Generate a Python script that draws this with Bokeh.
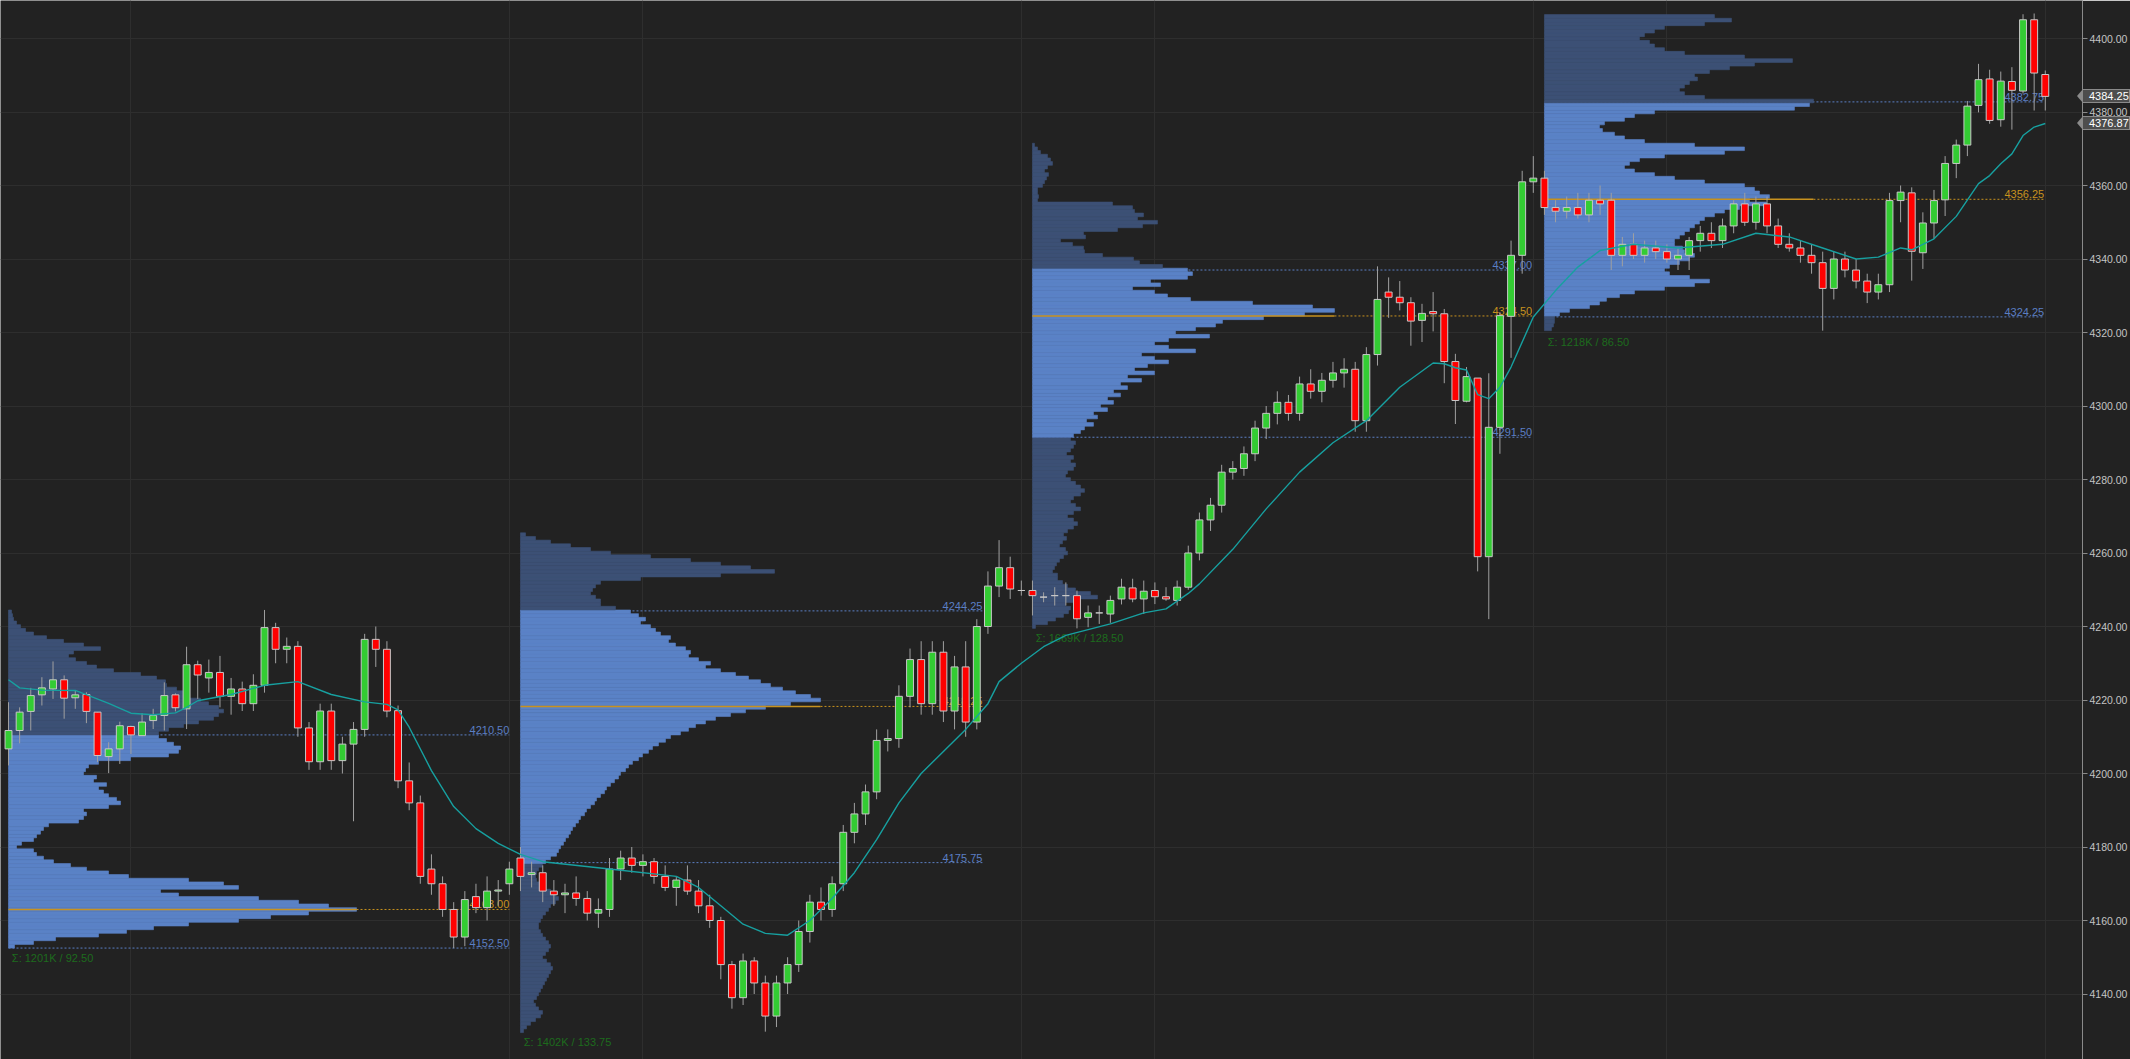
from bokeh.plotting import figure
from bokeh.models import ColumnDataSource, FixedTicker, Grid, NumeralTickFormatter, Range1d
from bokeh.core.properties import value
from bokeh.embed import file_html
from bokeh.resources import INLINE

# ---------------- data ----------------
ohlc = [
 # session 1
 (4206.7,4219.4,4202.2,4211.7),(4211.7,4218.0,4208.2,4216.7),(4216.9,4223.3,4211.7,4221.2),(4221.4,4226.2,4218.5,4223.3),
 (4223.0,4230.5,4220.3,4225.5),(4225.5,4226.7,4214.9,4220.5),(4220.6,4222.7,4217.6,4221.4),(4221.5,4222.1,4213.7,4216.9),
 (4216.7,4216.7,4203.1,4204.9),(4204.6,4208.5,4200.1,4206.7),(4206.7,4214.1,4202.6,4213.0),(4212.8,4213.0,4205.3,4210.5),
 (4210.3,4216.4,4210.3,4214.0),(4214.4,4217.6,4212.1,4215.8),(4215.8,4224.8,4211.7,4221.2),(4221.4,4221.8,4216.9,4217.9),
 (4217.6,4234.5,4212.1,4229.6),(4229.6,4230.7,4220.3,4226.8),(4226.0,4231.0,4222.0,4227.5),(4227.5,4232.0,4218.0,4221.0),
 (4221.0,4226.0,4216.0,4223.0),(4223.0,4225.0,4217.0,4219.0),(4219.0,4227.0,4217.0,4224.0),(4224.0,4244.5,4222.0,4239.7),
 (4239.7,4241.0,4230.0,4233.8),(4233.8,4237.0,4230.0,4234.6),(4234.6,4236.0,4210.0,4212.4),(4212.4,4214.0,4201.0,4203.2),
 (4203.2,4219.0,4201.0,4217.0),(4217.0,4219.0,4201.0,4203.5),(4203.5,4210.0,4200.0,4208.0),(4208.0,4214.0,4187.0,4212.0),
 (4212.0,4238.0,4210.0,4236.5),(4236.5,4240.0,4229.0,4233.8),(4233.8,4236.0,4215.3,4217.0),(4217.1,4218.5,4196.0,4198.0),
 (4198.0,4203.0,4190.0,4192.0),(4192.0,4194.0,4170.0,4172.0),(4174.0,4178.0,4167.0,4170.0),(4170.0,4172.0,4161.0,4163.0),
 (4163.0,4165.0,4152.5,4155.5),(4155.5,4168.0,4153.0,4165.7),(4166.5,4170.0,4162.0,4163.5),(4163.5,4172.0,4160.0,4168.0),
 (4168.0,4171.0,4164.0,4168.3),(4170.0,4176.0,4167.0,4174.0),
 # session 2
 (4177.0,4180.0,4168.0,4172.0),(4172.5,4176.0,4169.0,4173.0),(4173.0,4175.0,4165.0,4168.0),(4168.0,4171.0,4164.0,4167.0),
 (4167.0,4170.0,4162.0,4167.5),(4167.5,4172.0,4164.0,4166.0),(4166.0,4168.0,4160.0,4162.0),(4162.0,4166.0,4158.0,4163.0),
 (4163.0,4177.0,4161.0,4174.0),(4174.0,4179.0,4171.0,4177.0),(4177.0,4180.0,4173.0,4175.0),(4175.0,4178.0,4172.0,4176.0),
 (4176.0,4177.0,4170.0,4172.0),(4172.0,4175.0,4168.0,4169.0),(4169.0,4172.0,4164.0,4171.0),(4171.0,4175.0,4167.0,4168.0),
 (4168.0,4171.0,4162.0,4164.0),(4164.0,4167.0,4158.0,4160.0),(4160.0,4161.0,4144.0,4148.0),(4148.0,4149.0,4136.0,4139.0),
 (4139.0,4151.0,4137.0,4149.0),(4149.0,4150.0,4140.0,4143.0),(4143.0,4145.0,4129.75,4134.0),(4134.0,4145.0,4131.0,4143.0),
 (4143.0,4150.0,4140.0,4148.0),(4148.0,4160.0,4146.0,4157.0),(4157.0,4167.0,4154.0,4165.0),(4165.0,4169.0,4160.0,4163.0),
 (4163.0,4172.0,4161.0,4170.0),(4170.0,4186.0,4168.0,4184.0),(4184.0,4192.0,4181.0,4189.0),(4189.0,4197.0,4186.0,4195.0),
 (4195.0,4212.0,4193.0,4209.0),(4209.0,4212.0,4206.0,4209.5),(4209.5,4224.0,4207.0,4221.0),(4221.0,4234.0,4218.0,4231.0),
 (4231.0,4236.0,4216.0,4219.0),(4219.0,4236.0,4216.0,4233.0),(4233.0,4236.0,4214.0,4217.0),(4217.0,4232.0,4212.0,4229.0),
 (4229.0,4236.0,4210.0,4214.0),(4214.0,4242.0,4212.0,4240.0),(4240.0,4255.0,4238.0,4251.0),(4251.0,4263.5,4248.0,4256.0),
 (4256.0,4259.0,4247.5,4250.2),(4249.8,4252.5,4248.4,4249.8),
 # session 3
 (4249.8,4252.5,4243.0,4248.4),(4248.0,4249.3,4246.6,4248.0),(4248.4,4250.7,4245.7,4248.4),(4248.4,4252.0,4245.7,4248.4),
 (4248.4,4249.8,4239.5,4242.1),(4242.5,4245.7,4239.8,4243.7),(4243.7,4245.7,4240.7,4243.7),(4243.4,4248.4,4241.0,4247.1),
 (4247.5,4253.0,4246.0,4250.7),(4250.5,4253.0,4246.6,4247.5),(4247.5,4252.5,4243.4,4249.6),(4249.8,4252.0,4246.1,4248.1),
 (4248.1,4250.7,4247.0,4247.5),(4247.1,4252.5,4245.7,4250.7),(4250.7,4262.0,4250.0,4260.0),(4260.0,4271.0,4258.0,4269.0),
 (4269.0,4275.0,4266.0,4273.0),(4273.0,4284.0,4271.0,4282.0),(4282.0,4285.0,4280.0,4283.0),(4283.0,4289.0,4281.0,4287.0),
 (4287.0,4296.0,4285.0,4294.0),(4294.0,4300.0,4291.0,4298.0),(4298.0,4304.0,4295.0,4301.0),(4301.0,4303.0,4296.0,4298.0),
 (4298.0,4308.0,4296.0,4306.0),(4306.0,4310.0,4302.0,4304.0),(4304.0,4309.0,4301.0,4307.0),(4307.0,4312.0,4305.0,4309.0),
 (4309.0,4313.0,4305.0,4310.0),(4310.0,4312.0,4293.0,4296.0),(4296.0,4316.0,4293.0,4314.0),(4314.0,4338.0,4311.0,4329.0),
 (4331.0,4335.0,4324.0,4329.6),(4329.6,4334.0,4326.0,4328.1),(4328.1,4329.6,4316.4,4323.1),(4323.3,4327.8,4317.4,4325.2),
 (4325.7,4331.0,4320.3,4325.1),(4325.1,4326.4,4306.2,4312.1),(4312.1,4314.2,4295.1,4301.5),(4301.3,4310.6,4301.0,4308.0),
 (4307.6,4307.6,4255.0,4259.0),(4259.0,4308.9,4242.0,4294.2),(4294.2,4325.5,4287.0,4324.6),(4324.4,4345.0,4313.1,4341.0),
 (4341.0,4364.0,4336.0,4361.0),(4361.0,4368.0,4358.0,4362.0),
 # session 4
 (4362.0,4364.0,4352.0,4354.0),(4354.0,4356.0,4350.0,4353.0),(4353.0,4357.0,4351.0,4354.0),(4354.0,4358.0,4351.0,4352.0),
 (4352.0,4358.0,4350.0,4356.0),(4356.0,4360.0,4352.0,4355.0),(4356.0,4358.0,4337.0,4341.0),(4341.0,4346.0,4338.0,4344.0),
 (4344.0,4347.0,4340.0,4341.0),(4341.0,4345.0,4339.0,4343.0),(4343.0,4345.0,4340.0,4342.0),(4342.0,4344.0,4339.0,4340.0),
 (4340.0,4343.0,4337.0,4341.0),(4341.0,4346.0,4337.0,4345.0),(4345.0,4349.0,4342.0,4347.0),(4347.0,4350.0,4343.0,4345.0),
 (4345.0,4351.0,4343.0,4349.0),(4349.0,4356.0,4347.0,4355.0),(4355.0,4358.0,4349.0,4350.0),(4350.0,4357.0,4348.0,4355.0),
 (4355.0,4357.0,4347.0,4349.0),(4349.0,4351.0,4343.0,4344.0),(4344.0,4347.0,4342.0,4343.0),(4343.0,4345.0,4339.0,4341.0),
 (4341.0,4344.0,4336.0,4339.0),(4339.0,4342.0,4320.5,4332.0),(4332.0,4342.0,4329.0,4340.0),(4340.0,4342.0,4335.0,4337.0),
 (4337.0,4340.0,4332.0,4334.0),(4334.0,4336.0,4328.0,4331.0),(4331.0,4336.0,4329.0,4333.0),(4333.0,4358.0,4331.0,4355.9),
 (4355.9,4360.0,4350.0,4358.2),(4358.0,4359.5,4334.1,4342.1),(4341.7,4352.7,4337.3,4349.8),(4349.8,4358.8,4345.5,4355.9),
 (4356.1,4368.0,4351.7,4366.0),(4366.0,4372.5,4362.0,4371.0),(4371.0,4383.0,4368.0,4381.6),(4381.8,4393.1,4379.9,4388.8),
 (4389.0,4391.5,4376.8,4377.7),(4377.9,4391.0,4376.0,4388.4),(4388.3,4392.2,4375.2,4385.9),(4385.7,4406.6,4385.0,4405.1),
 (4405.1,4406.8,4380.4,4390.6),(4390.2,4391.3,4380.4,4384.25)]
opens = [b[0] for b in ohlc]
highs = [b[1] for b in ohlc]
lows = [b[2] for b in ohlc]
closes = [b[3] for b in ohlc]

ema_bars = [0,1,3,6,9,11,13,15,16,17,20,23,26,29,32,34,35,36,38,40,42,44,46,48,54,60,62,64,66,68,70,72,74,76,78,80,82,84,86,88,89,91,93,95,99,102,104,106,107,110,113,116,119,122,125,128,129,130,131,132,133,134,135,137,139,141,143,146,150,154,157,160,163,166,168,170,171,173,175,177,178,179,180,181,182,183]
ema_vals = [4225.5,4223.3,4222.7,4222.6,4219.1,4216.4,4216.0,4216.5,4218.0,4219.8,4221.5,4224.0,4225.0,4221.5,4219.5,4218.8,4217.3,4212.6,4200.8,4191.0,4185.0,4181.0,4178.0,4176.0,4174.0,4172.0,4169.0,4164.0,4159.0,4156.5,4156.0,4160.0,4166.0,4173.0,4182.0,4192.0,4200.0,4206.0,4212.0,4219.0,4225.0,4230.0,4234.5,4237.6,4240.7,4243.7,4244.8,4249.0,4251.6,4261.0,4272.0,4282.0,4290.0,4296.0,4305.1,4311.7,4311.5,4310.4,4309.8,4303.1,4302.0,4305.1,4310.6,4324.2,4331.4,4337.8,4342.3,4344.0,4343.0,4344.0,4347.0,4346.0,4343.0,4340.0,4340.5,4343.0,4342.5,4345.5,4351.6,4360.5,4362.7,4365.9,4368.6,4373.6,4375.9,4376.87]

# session profiles (volume widths in px per 1-pt price bin, from lowest bin upward)
session_start = [0, 46, 92, 138]
session_low = [4152.50, 4129.75, 4239.50, 4320.25]
session_vah = [4210.50, 4244.25, 4337.00, 4382.75]
session_poc = [4163.00, 4218.25, 4324.50, 4356.25]
session_val = [4152.50, 4175.75, 4291.50, 4324.25]
session_stats = ["Σ: 1201K / 92.50", "Σ: 1402K / 133.75", "Σ: 1669K / 128.50", "Σ: 1218K / 86.50"]
profile_first_bin = [4153, 4130, 4240, 4321]

profile1 = [6,25,47,90,118,145,180,230,262,300,348,320,290,250,170,152,230,215,180,120,100,78,62,45,35,28,25,8,13,25,
            28,32,35,40,70,75,78,75,100,112,108,100,95,90,98,85,88,75,77,80,90,122,160,170,172,165,158,150,150,160,
            175,190,205,210,215,210,200,192,180,175,168,158,157,148,132,105,88,78,67,60,65,92,75,55,38,25,17,12,8,5,4,3]
profile2 = [3,6,10,15,20,22,18,15,13,16,18,20,22,24,26,28,30,32,30,26,22,25,28,30,28,25,22,20,18,18,20,22,25,28,30,35,38,35,30,25,
            20,16,15,16,18,22,25,30,36,38,40,43,45,48,50,52,55,58,60,64,66,70,74,76,80,84,86,90,94,98,100,105,108,112,118,122,128,132,138,145,
            150,160,168,175,185,195,210,225,245,270,300,290,275,262,250,240,228,215,200,185,190,178,168,170,165,155,148,150,140,135,130,120,125,118,110,95,80,
            80,75,70,72,75,80,120,200,254,230,200,170,130,90,70,50,30,15,5]
profile3 = [3,15,23,31,36,38,33,45,65,58,43,35,30,25,25,
            20,22,24,27,31,35,33,27,30,34,31,35,41,45,41,35,41,48,43,38,41,48,52,48,43,38,33,35,41,43,38,41,34,38,41,43,38,41,48,
            52,61,54,65,61,75,68,81,75,88,81,95,88,109,95,122,102,115,136,122,109,163,136,122,136,177,143,163,183,190,231,272,302,280,220,158,135,122,100,128,118,155,160,155,130,107,
            101,70,52,51,40,28,53,51,85,110,125,105,111,102,100,80,5,6,5,5,10,12,14,16,12,15,20,18,15,8,5,2]
profile4 = [7,9,10,10,15,25,45,55,62,75,90,120,150,165,145,125,120,125,135,145,150,140,138,130,130,135,140,145,150,155,160,170,180,195,222,205,225,215,210,200,
            160,130,110,90,80,85,95,120,180,200,150,100,80,70,58,55,60,80,90,110,250,265,269,160,140,135,140,145,153,150,165,185,210,248,200,140,120,110,105,95,100,110,120,160,187,170]

# ---------------- figure ----------------
W, H = 2130, 1059
BG = "#222222"
PX_PER_BAR = 11.13           # horizontal pixels per bar in the reference layout
X0_PX = 8.0                  # pixel position of the first bar
AXIS_PX = 48                 # width of the price axis panel
PX_PER_PT = 3.675            # vertical pixels per index point
frame_w = W - AXIS_PX
x_start = -X0_PX / PX_PER_BAR
x_end = x_start + frame_w / PX_PER_BAR
y_top = 4360 + 185 / PX_PER_PT
y_bot = y_top - H / PX_PER_PT

p = figure(width=W, height=H, output_backend="svg", toolbar_location=None,
           x_axis_location=None, y_axis_location="right",
           x_range=Range1d(x_start, x_end), y_range=Range1d(y_bot, y_top),
           background_fill_color=BG, border_fill_color=BG,
           min_border_left=0, min_border_top=0, min_border_bottom=0, min_border_right=AXIS_PX)
p.outline_line_color = None
p.xgrid.grid_line_color = None

yt = list(range(4140, 4401, 20))
p.yaxis.ticker = FixedTicker(ticks=yt)
p.yaxis.formatter = NumeralTickFormatter(format="0.00")
p.yaxis.axis_line_color = "#8a8a8a"
p.yaxis.major_tick_line_color = "#8a8a8a"
p.yaxis.major_tick_out = 5
p.yaxis.major_tick_in = 0
p.yaxis.minor_tick_line_color = None
p.yaxis.major_label_text_color = "#c4c4c4"
p.yaxis.major_label_text_font = "Arial"
p.yaxis.major_label_text_font_size = "10.5px"
p.yaxis.major_label_standoff = 2
p.ygrid.ticker = FixedTicker(ticks=yt)
p.ygrid.grid_line_color = "#2e2e2e"
p.add_layout(Grid(dimension=0, ticker=FixedTicker(ticks=[11, 45, 57, 91, 103, 137, 149, 183]),
                  grid_line_color="#2e2e2e"))

VA_COL = "#5a82c6"
OUT_COL = "#3c5075"
LINE_BLUE = "#5b7fc4"
POC_COL = "#c8921e"
line_end = [45.0, 87.5, 136.9, 182.9]

profiles = [profile1, profile2, profile3, profile4]

# VAH / VAL lines (under profiles)
for k in range(4):
    s = session_start[k]
    for lv in (session_vah[k], session_val[k]):
        p.segment(x0=s, y0=lv, x1=line_end[k], y1=lv, line_color=LINE_BLUE, line_width=1, line_dash="2 2")

# profiles
for k in range(4):
    s = session_start[k]
    prices = [profile_first_bin[k] + j for j in range(len(profiles[k]))]
    rights = [s + w / PX_PER_BAR for w in profiles[k]]
    cols = [VA_COL if (session_val[k] - 0.01 <= pr <= session_vah[k] + 0.01) else OUT_COL for pr in prices]
    src = ColumnDataSource(dict(y=prices, left=[s] * len(prices), right=rights, c=cols))
    p.hbar(y="y", left="left", right="right", height=1.0, fill_color="c", line_color="c", line_width=0.6, source=src)
    pocw = max(profiles[k]) / PX_PER_BAR
    p.segment(x0=s, y0=session_poc[k], x1=s + pocw, y1=session_poc[k], line_color=POC_COL, line_width=1.5)
    p.segment(x0=s + pocw, y0=session_poc[k], x1=line_end[k], y1=session_poc[k], line_color=POC_COL, line_width=1, line_dash="2 2")

# level labels and session stats
for k in range(4):
    for lv, col in ((session_vah[k], LINE_BLUE), (session_poc[k], POC_COL), (session_val[k], LINE_BLUE)):
        p.text(x=[line_end[k]], y=[lv], text=[f"{lv:.2f}"], text_align="right", text_baseline="bottom",
               y_offset=-1, text_color=col, text_font=value("Arial"), text_font_size="11px")
    p.text(x=[session_start[k] + 0.3], y=[session_low[k]], text=[session_stats[k]], text_align="left",
           text_baseline="middle", y_offset=10, text_color="#1d6b1d", text_font=value("Arial"), text_font_size="11px")

# candles
idx = list(range(len(opens)))
tops = [max(o, c) for o, c in zip(opens, closes)]
bots = [min(o, c) for o, c in zip(opens, closes)]
fills = []
for o, c in zip(opens, closes):
    if abs(c - o) < 0.3:
        fills.append("#dddddd")
    elif c > o:
        fills.append("#33cc33")
    else:
        fills.append("#ff0000")
csrc = ColumnDataSource(dict(x=idx, o=opens, h=highs, l=lows, c=closes, top=tops, bottom=bots, f=fills))
p.segment(x0="x", y0="h", x1="x", y1="l", line_color="#a0a0a0", line_width=1, source=csrc)
p.vbar(x="x", width=0.62, top="top", bottom="bottom", fill_color="f", line_color="#c8c8c8", line_width=1, source=csrc)

# EMA
p.line(ema_bars, ema_vals, line_color="#17a0a0", line_width=1.4)

html = file_html(p, INLINE)
html = html.replace("<body>", '<body style="background-color:#222222;">', 1)

# price badges (last price, EMA value) sitting on the price axis; the page has no margin,
# so they share the figure's pixel frame (y computed with the same scale as the y_range)
badges = ""
for pv in (closes[-1], ema_vals[-1]):
    cy = (y_top - pv) * PX_PER_PT
    badges += (f'<div style="position:absolute;z-index:5;left:{frame_w - 5}px;top:{cy - 7:.1f}px;width:0;height:0;'
               f'border-top:7px solid transparent;border-bottom:7px solid transparent;border-right:6px solid #8a8a8a;"></div>')
    badges += (f'<div style="position:absolute;z-index:5;left:{frame_w + 1}px;top:{cy - 7:.1f}px;width:{W - frame_w - 1}px;'
               f'height:14px;box-sizing:border-box;background:#4d4d4d;border:1px solid #8a8a8a;border-left:none;'
               f'color:#ffffff;font:11px Arial, sans-serif;line-height:12px;padding-left:6px;white-space:nowrap;'
               f'overflow:hidden;">{pv:.2f}</div>')
html = html.replace("</body>", badges + "\n</body>", 1)
open("out.html", "w").write(html)
